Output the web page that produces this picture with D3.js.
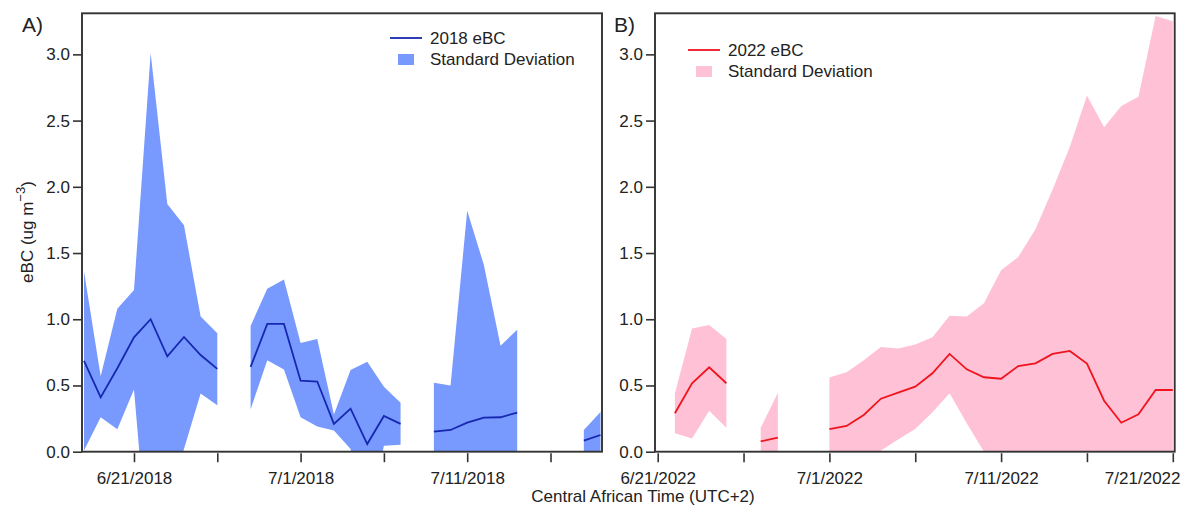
<!DOCTYPE html>
<html><head><meta charset="utf-8">
<script src="https://cdn.jsdelivr.net/npm/d3@7"></script>
<style>body{margin:0;background:#fff}svg{display:block}text{font-family:Arial,"Liberation Sans",sans-serif;fill:#222}</style>
</head><body><svg id="chart" width="1182" height="511"></svg>
<script>
// ---- data (daily; null = no data) ----
const dates2018 = ["2018-06-18","2018-06-19","2018-06-20","2018-06-21","2018-06-22","2018-06-23","2018-06-24","2018-06-25","2018-06-26","2018-06-27","2018-06-28","2018-06-29","2018-06-30","2018-07-01","2018-07-02","2018-07-03","2018-07-04","2018-07-05","2018-07-06","2018-07-07","2018-07-08","2018-07-09","2018-07-10","2018-07-11","2018-07-12","2018-07-13","2018-07-14","2018-07-15","2018-07-16","2018-07-17","2018-07-18","2018-07-19"];
const mean2018 = [0.685,0.41,0.63,0.864,1.00,0.72,0.866,0.73,0.625,null,0.64,0.965,0.965,0.536,0.53,0.21,0.325,0.058,0.27,0.21,null,0.151,0.164,0.22,0.257,0.26,0.295,null,null,null,0.083,0.126];
const upper2018 = [1.36,0.57,1.08,1.22,3.01,1.87,1.71,1.02,0.894,null,0.95,1.23,1.30,0.82,0.85,0.28,0.617,0.68,0.49,0.37,null,0.52,0.50,1.82,1.41,0.80,0.92,null,null,null,0.164,0.30];
const lower2018 = [0.01,0.26,0.17,0.47,-1.0,-0.43,0.02,0.44,0.35,null,0.32,0.69,0.62,0.26,0.19,0.16,0.02,-0.56,0.045,0.053,null,-0.22,-0.17,-1.38,-0.90,-0.28,-0.33,null,null,null,0.0,-0.05];

const dates2022 = ["2022-06-22","2022-06-23","2022-06-24","2022-06-25","2022-06-26","2022-06-27","2022-06-28","2022-06-29","2022-06-30","2022-07-01","2022-07-02","2022-07-03","2022-07-04","2022-07-05","2022-07-06","2022-07-07","2022-07-08","2022-07-09","2022-07-10","2022-07-11","2022-07-12","2022-07-13","2022-07-14","2022-07-15","2022-07-16","2022-07-17","2022-07-18","2022-07-19","2022-07-20","2022-07-21"];
const mean2022 = [0.29,0.517,0.637,0.517,null,0.078,0.106,null,null,0.171,0.194,0.277,0.40,0.446,0.491,0.592,0.738,0.622,0.562,0.551,0.647,0.667,0.738,0.761,0.665,0.385,0.219,0.282,0.466,0.466];
const upper2022 = [0.44,0.93,0.957,0.85,null,0.18,0.446,null,null,0.56,0.60,0.69,0.79,0.78,0.81,0.864,1.027,1.02,1.12,1.37,1.47,1.68,1.98,2.30,2.69,2.45,2.61,2.68,3.29,3.25];
const lower2022 = [0.14,0.10,0.31,0.18,null,-0.02,-0.23,null,null,-0.22,-0.21,-0.14,0.01,0.093,0.171,0.297,0.441,0.214,0.0,-0.27,-0.18,-0.35,-0.50,-0.78,-1.36,-1.68,-2.17,-2.12,-2.36,-2.32];

const yTicks = [0,0.5,1.0,1.5,2.0,2.5,3.0];
const xTicks2018 = ["2018-06-21","2018-06-26","2018-07-01","2018-07-06","2018-07-11","2018-07-16"];
const xTicks2022 = ["2022-06-21","2022-06-26","2022-07-01","2022-07-06","2022-07-11","2022-07-16","2022-07-21"];
const labeledTicks = ["2018-06-21","2018-07-01","2018-07-11","2022-06-21","2022-07-01","2022-07-11","2022-07-21"];

const panels = [
  {tag:"A)", dates:dates2018, mean:mean2018, upper:upper2018, lower:lower2018, ticks:xTicks2018,
   domain:[Date.UTC(2018,5,17,21,7), Date.UTC(2018,6,19,2,10)], left:82, right:602,
   fill:"#7899fd", line:"#1628b0", name:"2018 eBC", lx:390, ly:38},
  {tag:"B)", dates:dates2022, mean:mean2022, upper:upper2022, lower:lower2022, ticks:xTicks2022,
   domain:[Date.UTC(2022,5,20,20,14), Date.UTC(2022,6,21,2,40)], left:655, right:1174.7,
   fill:"#fec1d5", line:"#f0141e", name:"2022 eBC", lx:688, ly:50}
];

const svg = d3.select("#chart");
const plotTop = 13.3, plotBottom = 451.7;
const y = d3.scaleLinear().domain([0, 3.31]).range([plotBottom, plotTop]);
const parse = d3.utcParse("%Y-%m-%d");
const key = d3.utcFormat("%Y-%m-%d");
const fmt = d3.utcFormat("%-m/%-d/%Y");

panels.forEach((p, i) => {
  const x = d3.scaleUtc().domain(p.domain.map(d => new Date(d))).range([p.left, p.right]);
  const g = svg.append("g");
  const cid = "clip" + i;
  svg.append("clipPath").attr("id", cid).append("rect")
    .attr("x", p.left).attr("y", plotTop).attr("width", p.right - p.left).attr("height", plotBottom - plotTop);

  const rows = p.dates.map((d, k) => ({date: parse(d), m: p.mean[k], u: p.upper[k], l: p.lower[k]}));
  const area = d3.area().defined(d => d.m !== null)
    .x(d => x(d.date)).y0(d => y(d.l)).y1(d => y(d.u));
  const line = d3.line().defined(d => d.m !== null)
    .x(d => x(d.date)).y(d => y(d.m));
  g.append("path").datum(rows).attr("clip-path", `url(#${cid})`)
    .attr("d", area).attr("fill", p.fill).attr("stroke", "none");
  g.append("path").datum(rows).attr("clip-path", `url(#${cid})`)
    .attr("d", line).attr("fill", "none").attr("stroke", p.line).attr("stroke-width", 1.8);

  // frame
  g.append("rect").attr("x", p.left).attr("y", plotTop).attr("width", p.right - p.left).attr("height", plotBottom - plotTop)
    .attr("fill", "none").attr("stroke", "#333").attr("stroke-width", 1.9);

  // y axis
  const ya = g.append("g").attr("transform", `translate(${p.left},0)`)
    .call(d3.axisLeft(y).tickValues(yTicks).tickFormat(d3.format(".1f")).tickSize(9).tickPadding(3));
  ya.select(".domain").remove();
  ya.selectAll(".tick line").attr("stroke", "#333").attr("stroke-width", 1.6);
  ya.selectAll(".tick text").style("font-size", "17px").attr("fill", "#222");

  // x axis
  const xa = g.append("g").attr("transform", `translate(0,${plotBottom + 1.5})`)
    .call(d3.axisBottom(x).tickValues(p.ticks.map(parse))
      .tickFormat(d => labeledTicks.includes(key(d)) ? fmt(d) : "")
      .tickSize(9).tickPadding(10));
  xa.select(".domain").remove();
  xa.selectAll(".tick line").attr("stroke", "#333").attr("stroke-width", 1.6);
  xa.selectAll(".tick text").style("font-size", "17px").attr("fill", "#222");
  xa.selectAll(".tick text").filter(d => key(d) === "2022-07-21")
    .attr("text-anchor", "end").attr("x", 1180 - x(parse("2022-07-21")));

  // panel tag
  svg.append("text").attr("x", i === 0 ? 22 : 614).attr("y", 32).style("font-size", "21px").text(p.tag);

  // legend
  const lg = svg.append("g");
  lg.append("line").attr("x1", p.lx).attr("x2", p.lx + 32).attr("y1", p.ly).attr("y2", p.ly)
    .attr("stroke", p.line).attr("stroke-width", 1.8);
  lg.append("text").attr("x", p.lx + 40).attr("y", p.ly + 6).style("font-size", "17px").text(p.name);
  lg.append("rect").attr("x", p.lx + 8).attr("y", p.ly + 16).attr("width", 16).attr("height", 11).attr("fill", p.fill);
  lg.append("text").attr("x", p.lx + 40).attr("y", p.ly + 27).style("font-size", "17px").text("Standard Deviation");
});

// axis titles
const yt = svg.append("text").attr("transform", "translate(33,232) rotate(-90)")
  .attr("text-anchor", "middle").style("font-size", "17px");
yt.append("tspan").text("eBC (ug m");
yt.append("tspan").attr("dy", -8).style("font-size", "13px").text("\u22123");
yt.append("tspan").attr("dy", 8).text(")");
svg.append("text").attr("x", 643).attr("y", 502).attr("text-anchor", "middle").style("font-size", "17px")
  .text("Central African Time (UTC+2)");
</script></body></html>
